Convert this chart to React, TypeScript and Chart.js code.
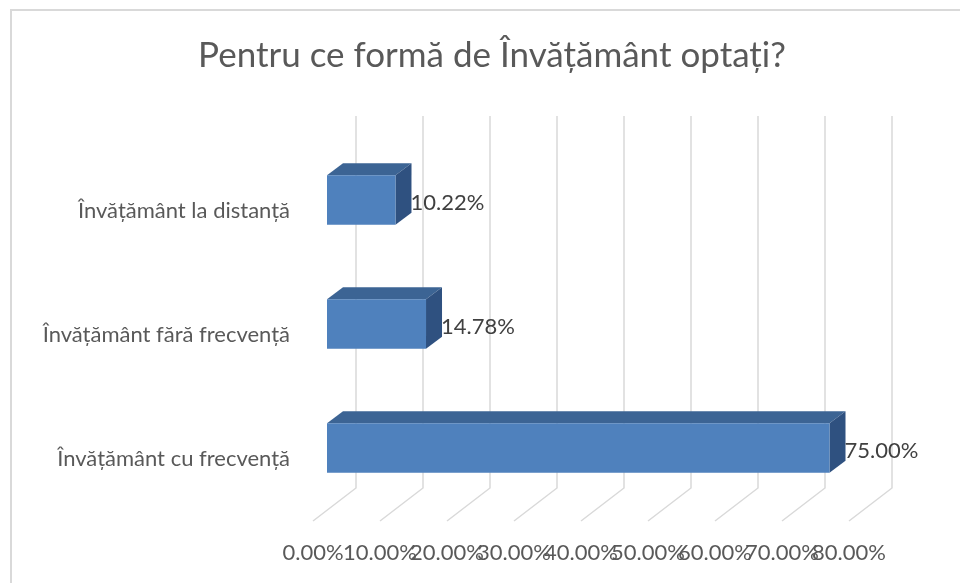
import React, { useEffect, useRef } from 'react';
import { Chart, registerables } from 'chart.js';

Chart.register(...registerables);

const chartTitle = 'Pentru ce formă de Învățământ optați?';
const categories = ['Învățământ la distanță', 'Învățământ fără frecvență', 'Învățământ cu frecvență'];
const values = [10.22, 14.78, 75.0];
const axisMin = 0;
const axisMax = 80;
const axisStep = 10;

const FONT = 'Lato, "Open Sans", sans-serif';
const TEXT = '#595959';
const FRONT = '#4f81bd';
const TOP = '#3c6494';
const SIDE = '#2f5180';
const GRID = '#d9d9d9';

// 3D projection offsets (pixels)
const BACK_DX = 43;
const BACK_DY = -33;
const FRONT_DX = 14;
const FRONT_DY = -11;
const DEPTH_DX = 16;
const DEPTH_DY = -12;

const fmt = (v: number) => v.toFixed(2) + '%';

const threeD = {
  id: 'threeD',
  beforeDatasetsDraw(chart: any) {
    const { ctx, chartArea, scales } = chart;
    const xs = scales.x;
    ctx.save();
    ctx.strokeStyle = GRID;
    ctx.lineWidth = 1.5;
    xs.ticks.forEach((t: any) => {
      const x = xs.getPixelForValue(t.value);
      ctx.beginPath();
      ctx.moveTo(x + BACK_DX, chartArea.top + BACK_DY);
      ctx.lineTo(x + BACK_DX, chartArea.bottom + BACK_DY);
      ctx.lineTo(x, chartArea.bottom);
      ctx.stroke();
    });
    ctx.restore();
  },
  beforeDatasetDraw(chart: any, args: any) {
    const { ctx } = chart;
    const meta = args.meta;
    ctx.save();
    meta.data.forEach((el: any) => {
      const p = el.getProps(['x', 'y', 'base', 'height'], true);
      const left = Math.min(p.base, p.x) + FRONT_DX;
      const right = Math.max(p.base, p.x) + FRONT_DX;
      const top = p.y - p.height / 2 + FRONT_DY;
      const bottom = p.y + p.height / 2 + FRONT_DY;
      ctx.fillStyle = TOP;
      ctx.beginPath();
      ctx.moveTo(left, top);
      ctx.lineTo(left + DEPTH_DX, top + DEPTH_DY);
      ctx.lineTo(right + DEPTH_DX, top + DEPTH_DY);
      ctx.lineTo(right, top);
      ctx.closePath();
      ctx.fill();
      ctx.fillStyle = SIDE;
      ctx.beginPath();
      ctx.moveTo(right, top);
      ctx.lineTo(right + DEPTH_DX, top + DEPTH_DY);
      ctx.lineTo(right + DEPTH_DX, bottom + DEPTH_DY);
      ctx.lineTo(right, bottom);
      ctx.closePath();
      ctx.fill();
    });
    ctx.restore();
    ctx.save();
    ctx.translate(FRONT_DX, FRONT_DY);
  },
  afterDatasetDraw(chart: any) {
    chart.ctx.restore();
  },
  afterDatasetsDraw(chart: any) {
    const { ctx } = chart;
    const meta = chart.getDatasetMeta(0);
    ctx.save();
    ctx.fillStyle = '#404040';
    ctx.font = `22px ${FONT}`;
    ctx.textAlign = 'left';
    ctx.textBaseline = 'middle';
    meta.data.forEach((el: any, i: number) => {
      const p = el.getProps(['x', 'y'], true);
      ctx.fillText(fmt(values[i]), p.x + FRONT_DX + DEPTH_DX - 1, p.y + FRONT_DY + 3);
    });
    ctx.restore();
  },
  afterDraw(chart: any) {
    const { ctx } = chart;
    ctx.save();
    ctx.fillStyle = TEXT;
    ctx.font = `35px ${FONT}`;
    ctx.textAlign = 'center';
    ctx.textBaseline = 'middle';
    ctx.fillText(chartTitle, 492, 56);
    ctx.restore();
  },
};

export default function App() {
  const ref = useRef<HTMLCanvasElement | null>(null);
  useEffect(() => {
    if (!ref.current) return;
    const chart = new Chart(ref.current, {
      type: 'bar',
      data: {
        labels: categories,
        datasets: [
          {
            data: values,
            backgroundColor: FRONT,
            borderWidth: 0,
            categoryPercentage: 1,
            barPercentage: 0.4,
          },
        ],
      },
      options: {
        indexAxis: 'y',
        responsive: false,
        animation: false,
        layout: { padding: { left: 0, right: 111, top: 149, bottom: 0 } },
        plugins: {
          legend: { display: false },
          tooltip: { enabled: false },
          title: { display: false },
        },
        scales: {
          x: {
            min: axisMin,
            max: axisMax,
            ticks: {
              stepSize: axisStep,
              callback: (v: any) => fmt(Number(v)),
              color: TEXT,
              font: { family: FONT, size: 22 },
              padding: 19,
              autoSkip: false,
              maxRotation: 0,
              minRotation: 0,
            },
            grid: { display: false, drawTicks: false },
            border: { display: false },
            afterFit: (s: any) => {
              s.height = 62;
            },
          },
          y: {
            ticks: {
              color: TEXT,
              font: { family: FONT, size: 22 },
              padding: 23,
            },
            grid: { display: false, drawTicks: false },
            border: { display: false },
            afterFit: (s: any) => {
              s.width = 313;
            },
          },
        },
      },
      plugins: [threeD],
    });
    return () => chart.destroy();
  }, []);
  return (
    <div style={{ position: 'absolute', left: 0, top: 0, width: 960, height: 583, overflow: 'hidden', background: '#fff' }}>
      <div style={{ position: 'absolute', left: 10, top: 9, width: 1000, height: 1000, border: '2px solid #d9d9d9' }} />
      <canvas ref={ref} width={960} height={583} style={{ position: 'absolute', left: 0, top: 0 }} />
    </div>
  );
}
